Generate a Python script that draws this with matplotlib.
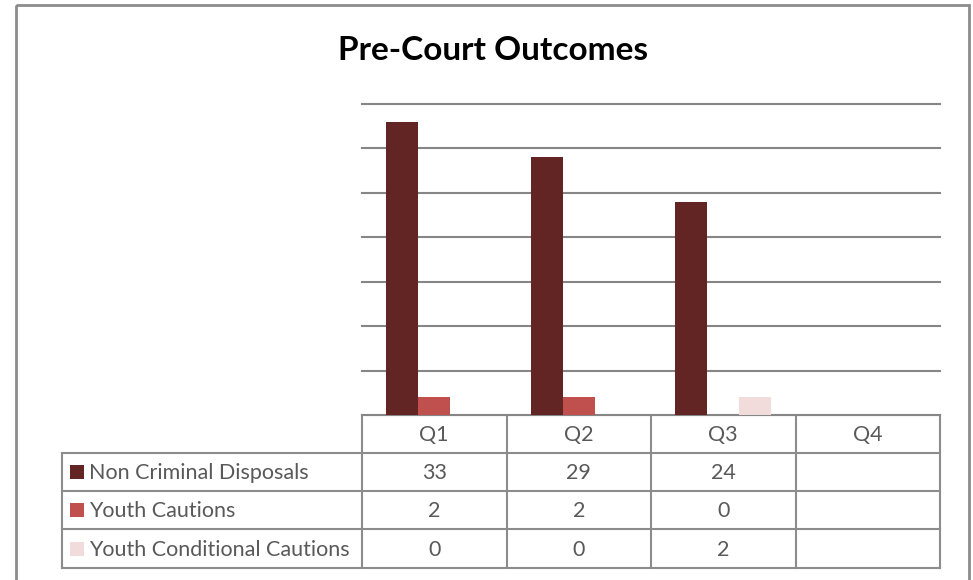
import numpy as np
import matplotlib.pyplot as plt
from matplotlib.patches import Rectangle

# chart data
quarters = ["Q1", "Q2", "Q3", "Q4"]
series_names = ["Non Criminal Disposals", "Youth Cautions", "Youth Conditional Cautions"]
non_criminal = [33, 29, 24, None]
youth_cautions = [2, 2, 0, None]
youth_conditional = [0, 0, 2, None]
colors = ["#632523", "#C0504D", "#F2DCDB"]

series = [non_criminal, youth_cautions, youth_conditional]

W, H = 973, 580
fig = plt.figure(figsize=(W / 100, H / 100), dpi=100)
plt.rcParams['font.family'] = ['Lato', 'DejaVu Sans']

# plot area in pixels
left, right, top, bottom = 362, 940, 104, 415
ax = fig.add_axes([left / W, 1 - bottom / H, (right - left) / W, (bottom - top) / H])

x = np.arange(len(quarters))
w = 0.2215
for k, (vals, c) in enumerate(zip(series, colors)):
    v = [np.nan if a is None else a for a in vals]
    ax.bar(x + (k - 1) * w, v, width=w, color=c, zorder=3)

ax.set_xlim(-0.5, len(quarters) - 0.5)
ax.set_ylim(0, 35)
ax.set_yticks(np.arange(0, 36, 5))
ax.yaxis.grid(True, color="#868686", linewidth=1.5, zorder=0)
for gl in ax.get_ygridlines():
    gl.set_clip_on(False)
ax.tick_params(left=False, bottom=False, labelleft=False, labelbottom=False)
for s in ax.spines.values():
    s.set_visible(False)

# overlay in pixel coordinates for title, border and data table
ov = fig.add_axes([0, 0, 1, 1], zorder=-1)
ov.set_xlim(0, W)
ov.set_ylim(H, 0)
ov.axis("off")

ov.add_patch(Rectangle((16, 5), 953, 600, fill=False, edgecolor="#8c8c8c", linewidth=2))
ov.text(493, 50, "Pre-Court Outcomes", ha="center", va="center",
        fontsize=24, fontweight="bold", color="black")

grid_c = "#8c8c8c"
lw = 1.5
row_y = [415, 453, 491, 529, 568]
col_x = [left + i * (right - left) / 4 for i in range(5)]
label_x0 = 62
txt_c = "#595959"
fs = 15.5

# horizontal lines
ov.plot([left, right], [row_y[0]] * 2, color=grid_c, lw=lw)
for yy in row_y[1:]:
    ov.plot([label_x0, right], [yy, yy], color=grid_c, lw=lw)
# vertical lines
for xx in col_x:
    ov.plot([xx, xx], [row_y[0], row_y[-1]], color=grid_c, lw=lw)
ov.plot([label_x0, label_x0], [row_y[1], row_y[-1]], color=grid_c, lw=lw)

# header
for i, q in enumerate(quarters):
    ov.text((col_x[i] + col_x[i + 1]) / 2, (row_y[0] + row_y[1]) / 2 + 1, q,
            ha="center", va="center", fontsize=fs, color=txt_c)

# rows
for r, (name, vals, c) in enumerate(zip(series_names, series, colors)):
    yc = (row_y[r + 1] + row_y[r + 2]) / 2
    ov.add_patch(Rectangle((70, yc - 7), 14, 14, facecolor=c, edgecolor="none"))
    ov.text(89, yc + 1, name, ha="left", va="center", fontsize=fs, color=txt_c)
    for i, v in enumerate(vals):
        if v is not None:
            ov.text((col_x[i] + col_x[i + 1]) / 2, yc + 1, str(v),
                    ha="center", va="center", fontsize=fs, color=txt_c)

fig.savefig("out.png", dpi=100, facecolor="white")
